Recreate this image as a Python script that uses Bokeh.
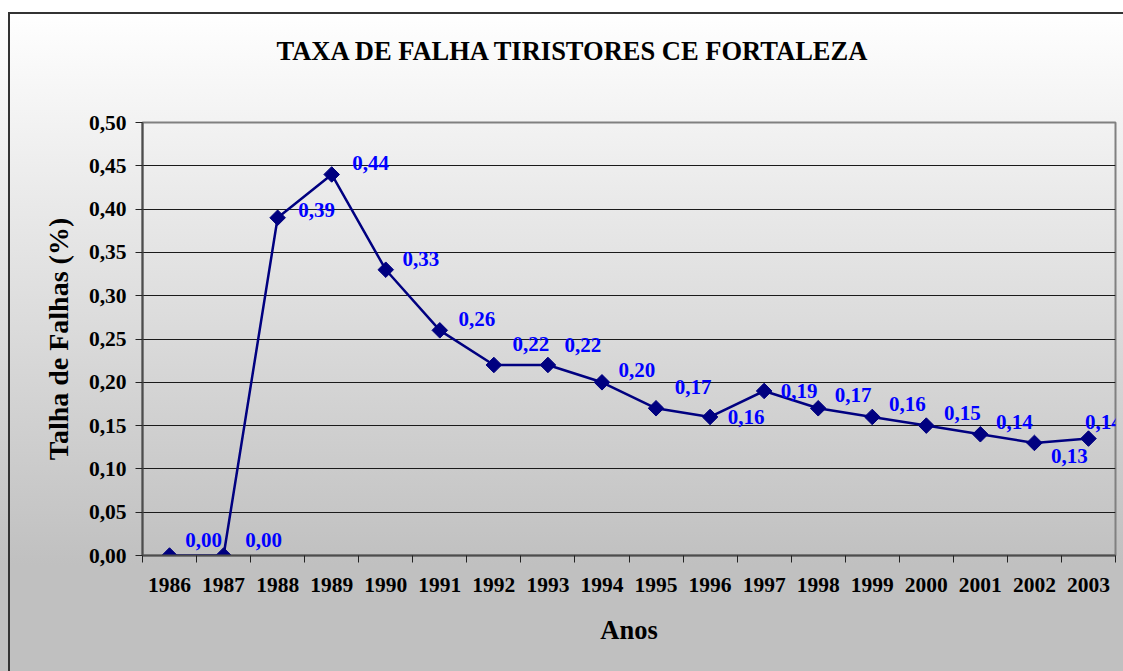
import math
from bokeh.plotting import figure
from bokeh.models import ColumnDataSource, FixedTicker, Range1d, Title
from bokeh.core.properties import value
from bokeh.embed import file_html
from bokeh.resources import INLINE

# ---- data ----
years = ["1986", "1987", "1988", "1989", "1990", "1991", "1992", "1993", "1994",
         "1995", "1996", "1997", "1998", "1999", "2000", "2001", "2002", "2003"]
taxa = [0.00, 0.00, 0.39, 0.44, 0.33, 0.26, 0.22, 0.22, 0.20,
        0.17, 0.16, 0.19, 0.17, 0.16, 0.15, 0.14, 0.13, 0.135]
rotulos = ["0,00", "0,00", "0,39", "0,44", "0,33", "0,26", "0,22", "0,22", "0,20",
           "0,17", "0,16", "0,19", "0,17", "0,16", "0,15", "0,14", "0,13", "0,14"]
y_ticks = [0.0, 0.05, 0.10, 0.15, 0.20, 0.25, 0.30, 0.35, 0.40, 0.45, 0.50]
y_tick_labels = ["0,00", "0,05", "0,10", "0,15", "0,20", "0,25", "0,30", "0,35",
                 "0,40", "0,45", "0,50"]
titulo = "TAXA DE FALHA TIRISTORES CE FORTALEZA"

# ---- style (label offsets in pixels) ----
lab_dx = [34, 40, 39, 39, 35, 37, 37, 35, 35, 37, 36, 35, 35, 35, 36, 34, 35, 15]
lab_dy = [-16, -16, -8, -11, -11, -11, -21, -20, -12, -21, 0, 0, -13, -13, -13, -12, 13, -17]

FONT = "Liberation Serif"
n = len(years)
xs = [i + 0.5 for i in range(n)]

src = ColumnDataSource(dict(x=xs, y=taxa, txt=rotulos, dx=lab_dx, dy=lab_dy))

p = figure(width=1123, height=671, output_backend="svg", toolbar_location=None,
           title=None,
           x_range=Range1d(0, n), y_range=Range1d(0, 0.5),
           min_border_left=142, min_border_right=8, min_border_top=122,
           min_border_bottom=116)

p.background_fill_color = None
p.border_fill_color = None
p.styles = {
    "background-image": "linear-gradient(#333333, #333333), linear-gradient(#333333, #333333), "
                        "linear-gradient(to bottom, #ffffff 12px, #c0c0c0 565px, #c0c0c0 100%)",
    "background-size": "100% 2px, 2px 100%, 100% 100%",
    "background-position": "8px 12px, 8px 12px, 0 0",
    "background-repeat": "no-repeat",
}

p.outline_line_color = "#808080"
p.outline_line_width = 2

# spacer (nearest the frame) then the chart title
p.add_layout(Title(text=" ", text_font=FONT, text_font_size="10px", standoff=44), "above")
p.add_layout(Title(text=titulo, align="left", offset=134, standoff=0,
                   text_font=FONT, text_font_size="26.5px", text_font_style="bold",
                   text_color="black"), "above")

# x axis: ticks between categories, labels at centres
p.xaxis.ticker = FixedTicker(ticks=xs, minor_ticks=list(range(n + 1)))
p.xaxis.major_label_overrides = {x: y for x, y in zip(xs, years)}
p.xaxis.major_tick_line_color = None
p.xaxis.minor_tick_line_color = "#222222"
p.xaxis.minor_tick_in = 0
p.xaxis.minor_tick_out = 7
p.xaxis.major_label_standoff = 15
p.xaxis.major_label_text_font = FONT
p.xaxis.major_label_text_font_size = "21.5px"
p.xaxis.major_label_text_font_style = "bold"
p.xaxis.major_label_text_color = "black"
p.xaxis.axis_line_color = "#4d4d4d"
p.xaxis.axis_line_width = 2
p.xaxis.axis_label = "Anos"
p.xaxis.axis_label_text_font = FONT
p.xaxis.axis_label_text_font_size = "26.5px"
p.xaxis.axis_label_text_font_style = "bold"
p.xaxis.axis_label_text_color = "black"
p.xaxis.axis_label_standoff = 20

p.yaxis.ticker = FixedTicker(ticks=y_ticks)
p.yaxis.major_label_overrides = {k: v for k, v in zip(y_ticks, y_tick_labels)}
p.yaxis.minor_tick_line_color = None
p.yaxis.major_tick_in = 0
p.yaxis.major_tick_out = 7
p.yaxis.major_tick_line_color = "#222222"
p.yaxis.major_label_standoff = 9
p.yaxis.major_label_text_font = FONT
p.yaxis.major_label_text_font_size = "21.5px"
p.yaxis.major_label_text_font_style = "bold"
p.yaxis.major_label_text_color = "black"
p.yaxis.axis_line_color = "#4d4d4d"
p.yaxis.axis_line_width = 2
p.yaxis.axis_label = "Talha de Falhas (%)"
p.yaxis.axis_label_text_font = FONT
p.yaxis.axis_label_text_font_size = "28px"
p.yaxis.axis_label_text_font_style = "bold"
p.yaxis.axis_label_text_color = "black"
p.yaxis.axis_label_standoff = 12

p.xgrid.grid_line_color = None
p.ygrid.grid_line_color = "#1a1a1a"
p.ygrid.grid_line_width = 1

p.line("x", "y", source=src, line_color="#000080", line_width=2.5)
p.scatter("x", "y", source=src, marker="square", size=11, angle=math.pi / 4,
          fill_color="#000080", line_color="#000080")
p.text("x", "y", text="txt", source=src, x_offset="dx", y_offset="dy",
       text_font=value(FONT), text_font_size="21px", text_font_style="bold",
       text_color="#0000ff", text_align="center", text_baseline="middle")

open("out.html", "w").write(file_html(p, INLINE))
